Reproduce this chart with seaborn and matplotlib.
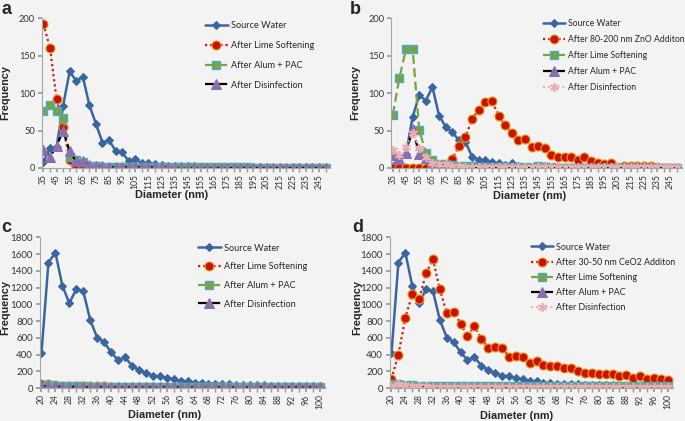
import numpy as np
import matplotlib
matplotlib.use("Agg")
import matplotlib.pyplot as plt
import seaborn as sns

# ---- data -------------------------------------------------------------
d_ab = list(range(35, 255, 5))      # 44 size bins, panels a/b
d_cd = list(range(20, 102, 2))      # 41 size bins, panels c/d

a_source = [8, 27, 28, 83, 129, 116, 122, 84, 59, 34,
            37, 23, 21, 9, 12, 6, 7, 5, 4, 2,
            2, 2, 3, 2, 1, 1, 1, 1, 1, 1,
            1, 1, 1, 1, 0, 0, 0, 0, 0, 0,
            0, 0, 0, 0]
a_lime = [192, 160, 92, 55, 10, 3, 1, 0, 0, 0] + [0] * 34
a_alum = [76, 84, 76, 67, 14, 10, 8, 3, 2, 1] + [1] * 22 + [0] * 12
a_dis = [24, 15, 29, 50, 22, 9, 9, 4, 2, 2] + [1] * 10 + [0] * 24

b_source = [2, 15, 18, 68, 97, 90, 108, 70, 55, 48,
            37, 35, 15, 11, 10, 8, 6, 4, 6, 2,
            1, 1, 2, 2, 1, 1, 1, 1, 1, 1,
            1, 1, 1, 0, 0, 0, 0, 0, 0, 0,
            0, 0, 0, 0]
b_zno = [0, 0, 0, 0, 0, 0, 1, 1, 2,
         12, 29, 41, 66, 77, 88, 90, 70, 57, 47,
         38, 39, 28, 29, 26, 17, 15, 15, 15, 10,
         14, 9, 6, 5, 6, 1, 3, 3, 2, 2,
         2, 1, 0, 0, 0]
b_lime = [71, 120, 159, 159, 51, 20, 10, 5, 5, 4,
          2, 2, 2, 1, 1, 1, 1, 1, 1, 1,
          1, 1, 2, 1, 1] + [0] * 19
b_alum = [17, 12, 20, 52, 19, 13, 5, 3, 3] + [0] * 35
b_dis = [24, 17, 28, 47, 27, 14, 7, 5, 5, 3, 2] + [1] * 33

c_source = [420, 1500, 1620, 1225, 1015, 1180, 1160, 815, 605, 550,
            430, 335, 370, 270, 215, 185, 150, 140, 120, 110,
            80, 85, 65, 60, 55, 55, 50, 45, 40, 40,
            40, 35, 35, 30, 30, 30, 28, 25, 25, 25,
            20]
c_lime = [45, 55, 35, 30, 25, 30, 25, 20, 20, 20] + [18] * 31
c_alum = [30, 35, 30, 25, 20, 20, 20, 18, 18, 18] + [15] * 31
c_dis = [20, 25, 20, 15, 15, 15, 12, 12, 12, 12] + [10] * 31

d_ceo2 = [110, 400, 840, 1120, 1060, 1370, 1540, 1180, 895, 910,
          770, 620, 740, 590, 485, 490, 480, 375, 385, 370,
          300, 320, 275, 270, 260, 235, 240, 200, 180, 185,
          165, 170, 165, 150, 160, 125, 145, 110, 120, 105,
          95]
d_lime = [45, 50, 40, 35, 30, 30, 28, 25, 25, 25] + [20] * 31
d_alum = [10, 20, 15, 12, 12, 12, 10, 10, 10, 10] + [8] * 31
d_dis = [30, 45, 35, 25, 20, 20, 18, 18, 15, 15] + [12] * 31

# ---- styles -----------------------------------------------------------
BLUE = "#3a66a0"
RED = "#d11a0e"
GREEN = "#7ba23f"
PURPLE = "#8a6fb0"
PINK = "#ecaeb0"

st_source = dict(color=BLUE, linestyle="-", linewidth=1.8, marker="D",
                 markersize=4.5, markerfacecolor=BLUE, markeredgecolor=BLUE)
st_red = dict(color=RED, linestyle=(0, (1, 1.3)), linewidth=1.6, marker="o",
              markersize=6.5, markerfacecolor="#cc1100", markeredgecolor="#e8a020",
              markeredgewidth=0.8)
st_green = dict(color=GREEN, linestyle=(0, (4, 2)), linewidth=1.6, marker="s",
                markersize=6.0, markerfacecolor=GREEN, markeredgecolor="#4bacc6",
                markeredgewidth=1.0)
st_black = dict(color="black", linestyle=(0, (4, 2)), linewidth=1.6, marker="^",
                markersize=6.5, markerfacecolor=PURPLE, markeredgecolor=PURPLE)
st_pink = dict(color=PINK, linestyle=(0, (1, 1.5)), linewidth=1.4, marker=(6, 2, 0),
               markersize=6.5, markerfacecolor=PINK, markeredgecolor=PINK,
               markeredgewidth=1.2)

sns.set_theme(style="white")
plt.rcParams["font.family"] = ["Lato", "DejaVu Sans"]
BG = "#f3f3f3"
W, H = 685.0, 421.0

fig = plt.figure(figsize=(6.85, 4.21), dpi=100, facecolor=BG)


def fx(px):
    return px / W


def fy(py):
    return 1 - py / H


def panel(rect, xs, series, ymax, ystep, ysize, letter, letter_px, leg_px,
          leg_space, leg_size, ylab_px, xlab_px):
    ax = fig.add_axes(rect)
    ax.set_facecolor(BG)
    idx = np.arange(len(xs))
    for label, vals, st in series:
        sns.lineplot(x=idx, y=vals, ax=ax, label=label, **st)
    ax.set_xlim(-0.25, len(xs) - 0.3)
    ax.set_ylim(0, ymax)
    ax.set_yticks(np.arange(0, ymax + 1, ystep))
    ax.set_xticks(idx[::2])
    ax.set_xticklabels([str(v) for v in xs[::2]], rotation=90)
    ax.set_xticks(idx, minor=True)
    ax.tick_params(axis="x", which="both", length=3, color="#999999",
                   labelsize=6.2, pad=1.5, labelcolor="#333333", bottom=True)
    ax.tick_params(axis="y", length=3, color="#999999", labelsize=ysize,
                   labelcolor="#333333", pad=2, left=True)
    for s in ["top", "right"]:
        ax.spines[s].set_visible(False)
    for s in ["left", "bottom"]:
        ax.spines[s].set_color("#a6a6a6")
        ax.spines[s].set_linewidth(0.8)
    ax.set_xlabel("")
    ax.set_ylabel("")
    fig.text(fx(xlab_px[0]), fy(xlab_px[1]), "Diameter (nm)", fontsize=7.8,
             fontweight="bold", family="Liberation Sans", ha="center", va="center")
    fig.text(fx(ylab_px[0]), fy(ylab_px[1]), "Frequency", fontsize=7.8,
             fontweight="bold", family="Liberation Sans", ha="center", va="center",
             rotation=90)
    ax.legend(loc="upper left", bbox_to_anchor=(fx(leg_px[0]), fy(leg_px[1])),
              bbox_transform=fig.transFigure, frameon=False, fontsize=leg_size,
              handlelength=2.5, handletextpad=0.35, labelspacing=leg_space,
              borderpad=0, borderaxespad=0)
    fig.text(fx(letter_px[0]), fy(letter_px[1]), letter, fontsize=13,
             fontweight="bold", family="Liberation Sans", ha="left", va="center")
    return ax


panel([0.061, 0.601, 0.421, 0.356], d_ab,
      [("Source Water", a_source, st_source),
       ("After Lime Softening", a_lime, st_red),
       ("After Alum + PAC", a_alum, st_green),
       ("After Disinfection", a_dis, st_black)],
      200, 50, 6.7, "a", (1, 9), (205, 21.5), 1.17, 6.6, (5, 93), (172, 195))

panel([0.571, 0.601, 0.424, 0.356], d_ab,
      [("Source Water", b_source, st_source),
       ("After 80-200 nm ZnO Additon", b_zno, st_red),
       ("After Lime Softening", b_lime, st_green),
       ("After Alum + PAC", b_alum, st_black),
       ("After Disinfection", b_dis, st_pink)],
      200, 50, 6.7, "b", (350, 9), (543, 19.5), 0.8, 6.2, (355, 93), (530, 196))

panel([0.058, 0.078, 0.416, 0.358], d_cd,
      [("Source Water", c_source, st_source),
       ("After Lime Softening", c_lime, st_red),
       ("After Alum + PAC", c_alum, st_green),
       ("After Disinfection", c_dis, st_black)],
      1800, 200, 7.0, "c", (1, 228), (198, 243.5), 1.06, 6.6, (5, 308), (165, 415))

panel([0.569, 0.078, 0.413, 0.358], d_cd,
      [("Source Water", c_source, st_source),
       ("After 30-50 nm CeO2 Additon", d_ceo2, st_red),
       ("After Lime Softening", d_lime, st_green),
       ("After Alum + PAC", d_alum, st_black),
       ("After Disinfection", d_dis, st_pink)],
      1800, 200, 7.0, "d", (352, 228), (531, 242.5), 0.7, 6.4, (357, 308), (517, 416))

fig.savefig("out.png", dpi=100, facecolor=BG)
